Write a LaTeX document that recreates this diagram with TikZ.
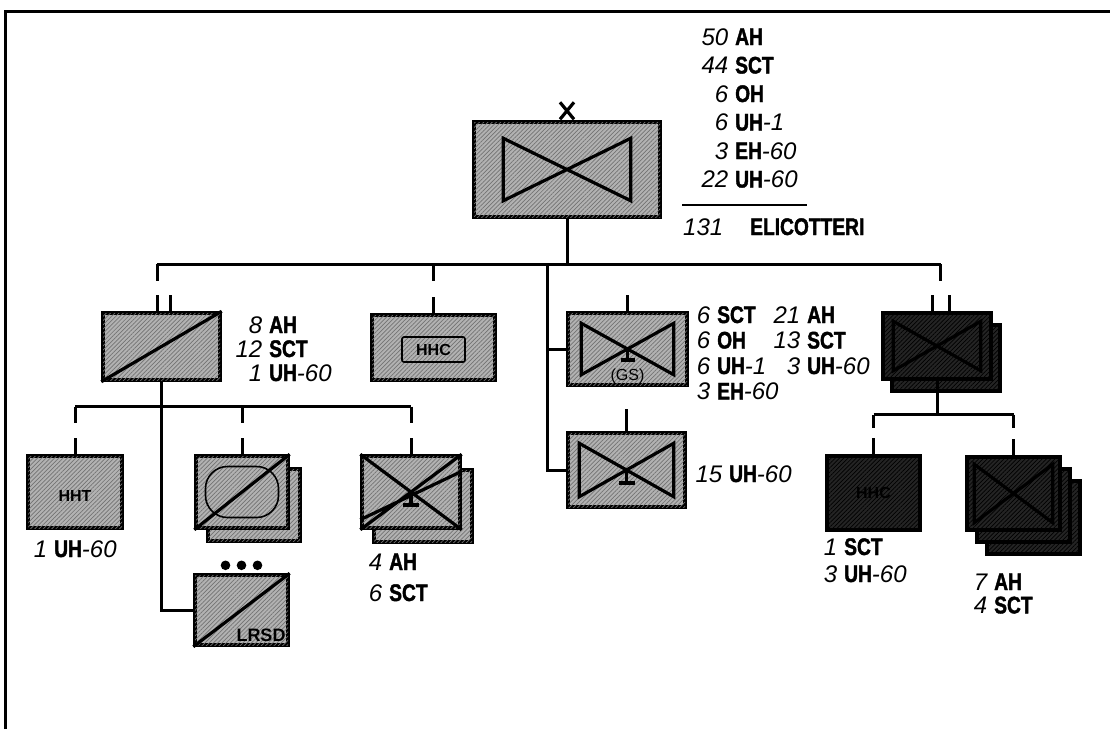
\documentclass[tikz,border=0pt]{standalone}
\usepackage{fontspec}
\setmainfont{Liberation Sans}
\newfontfamily\condfont[FakeStretch=0.8,BoldFeatures={FakeBold=1.6}]{Liberation Sans}
\usetikzlibrary{patterns.meta,calc}

% number + type line of a label block
\newcommand\ac[2]{\makebox[30pt][r]{\itshape #1}\hspace{7pt}{\condfont\bfseries #2}}
\newcommand\sfx[1]{{\itshape -#1}}
% aviation bow tie inside a unit box
\newcommand\airwing[3]{%
  \draw[symline] ([shift={(#2,#3)}]#1.north west) -- ([shift={(-#2,-#3)}]#1.south east)
    -- ([shift={(-#2,#3)}]#1.north east) -- ([shift={(#2,-#3)}]#1.south west) -- cycle;}
% inverted T under the centre
\newcommand\tmark[1]{\draw[symline] (#1.center) -- ++(0,13) ++(-8,0) -- ++(16,0);}

\tikzset{
  boxbase/.style={draw,line width=3.4pt,inner sep=0pt},
  unitbox/.style={boxbase,fill=black!30,
    postaction={pattern={Lines[angle=45,distance=3pt,line width=.7pt]},pattern color=black!55}},
  darkbox/.style={boxbase,fill=black!86,
    postaction={pattern={Lines[angle=45,distance=3pt,line width=.7pt]},pattern color=black}},
  symline/.style={line width=3.2pt},
  wire/.style={line width=3pt},
  tally/.style={anchor=base west,inner sep=0pt},
  boxname/.style={font=\bfseries\fontsize{16}{16}\selectfont}
}

\begin{document}
\begin{tikzpicture}[x=1pt,y=-1pt]
  \useasboundingbox (0,0) rectangle (1110,729);
  \draw[line width=3pt] (5,729) -- (5,11) -- (1110,11);

  % brigade
  \node[unitbox,minimum width=186pt,minimum height=95pt] (bde) at (567,169.5) {};
  \airwing{bde}{31}{18}
  \draw[symline] ([shift={(-7,-18)}]bde.north) -- ([shift={(7,-1)}]bde.north)
                 ([shift={(7,-18)}]bde.north) -- ([shift={(-7,-1)}]bde.north);

  % first row
  \node[unitbox,minimum width=117pt,minimum height=67pt] (cavsq) at (161.5,346.5) {};
  \draw[symline] (cavsq.south west) -- (cavsq.north east);
  \node[unitbox,minimum width=123pt,minimum height=65pt] (hhc) at (433.5,347.5) {};
  \node[boxname,draw,line width=1.6pt,rounded corners=2pt,minimum width=63pt,minimum height=25pt]
    (hhcname) at ([yshift=-2pt]hhc.center) {HHC};
  \node[unitbox,minimum width=119pt,minimum height=72pt] (gsab) at (627.5,349) {};
  \airwing{gsab}{15}{12}
  \draw[symline] (gsab.center) -- ++(0,11) ++(-7,0) -- ++(14,0);
  \node[font=\fontsize{16}{16}\selectfont,anchor=south,inner sep=1pt] (gsname)
    at ([yshift=2pt]gsab.south) {(GS)};
  \node[unitbox,minimum width=117pt,minimum height=74pt] (ahb) at (626.5,470) {};
  \airwing{ahb}{13}{12}
  \tmark{ahb}
  \node[darkbox,minimum width=108pt,minimum height=66pt] (atkbn2) at (946,358) {};
  \node[darkbox,minimum width=108pt,minimum height=66pt] (atkbn) at (937,346) {};
  \airwing{atkbn}{12}{10}

  % cavalry squadron row
  \node[unitbox,minimum width=94pt,minimum height=72pt] (hht) at (75,492) {};
  \node[boxname] (hhtname) at ([yshift=-4pt]hht.center) {HHT};
  \node[unitbox,minimum width=92pt,minimum height=72pt] (cavtrp2) at (254,505) {};
  \node[unitbox,minimum width=92pt,minimum height=72pt] (cavtrp) at (242,492) {};
  \node[draw,line width=1.6pt,rounded corners=22pt,minimum width=73pt,minimum height=51pt]
    (cavtrpov) at (cavtrp.center) {};
  \draw[symline] (cavtrp.south west) -- (cavtrp.north east);
  \node[unitbox,minimum width=98pt,minimum height=72pt] (airtrp2) at (423,506) {};
  \node[unitbox,minimum width=98pt,minimum height=72pt] (airtrp) at (411,492) {};
  \draw[symline] (airtrp.north west) -- (airtrp.south east)
                 (airtrp.south west) -- (airtrp.north east)
                 ([shift={(0,-10)}]airtrp.south west) -- ([shift={(0,17)}]airtrp.north east);
  \tmark{airtrp}
  \node[unitbox,minimum width=93pt,minimum height=70pt] (lrsd) at (241.5,610) {};
  \draw[symline] (lrsd.south west) -- (lrsd.north east);
  \node[anchor=south east,inner sep=2pt,font=\bfseries\fontsize{18}{18}\selectfont] (lrsdname)
    at ([shift={(-2,-3)}]lrsd.south east) {LRSD};
  \foreach \dx in {-16,0,16}
    \fill ([shift={(\dx,-8)}]lrsd.north) circle[radius=4.8pt];

  % attack battalion row
  \node[darkbox,minimum width=93pt,minimum height=74pt] (atkhhc) at (873.5,493) {};
  \node[boxname,text=black] (atkhhcname) at (atkhhc.center) {HHC};
  \node[darkbox,minimum width=93pt,minimum height=73pt] (atkco3) at (1033.5,517.5) {};
  \node[darkbox,minimum width=93pt,minimum height=73pt] (atkco2) at (1023.5,505.5) {};
  \node[darkbox,minimum width=93pt,minimum height=73pt] (atkco) at (1013.5,493.5) {};
  \airwing{atkco}{9}{9}

  % tree lines
  \coordinate (bus1) at (547,264);
  \coordinate (bus2) at ([yshift=-25pt]cavsq.south);
  \coordinate (bus3) at ([yshift=-34pt]atkbn.south);
  \draw[wire] (bde.south) -- (bde.south |- bus1);
  \draw[wire] ([xshift=-4.5pt]cavsq.north |- bus1) -- ([xshift=3.5pt]atkbn.north |- bus1);
  \foreach \u/\dx in {cavsq/-4.5pt,hhc/0pt,atkbn/3.5pt}
    \draw[wire] ([xshift=\dx]\u.north |- bus1) -- ++(0,17);
  \draw[wire] (bus1) |- (ahb.west);
  \draw[wire] (bus1 |- gsab.west) -- (gsab.west);
  \draw[wire] (hht.north |- bus2) -- (airtrp.north |- bus2);
  \draw[wire] (cavsq.south) |- (lrsd.west);
  \foreach \u in {hht,cavtrp,airtrp}
    \draw[wire] (\u.north |- bus2) -- ++(0,16);
  \draw[wire] (atkbn.south) -- (bus3);
  \draw[wire] (atkhhc.north |- bus3) -- (atkco.north |- bus3);
  \foreach \u in {atkhhc,atkco}
    \draw[wire] (\u.north |- bus3) -- ++(0,13);
  % unit size marks
  \foreach \u/\dx in {cavsq/-4.5pt,cavsq/8.5pt,hhc/0pt,gsab/0pt,atkbn/-5pt,atkbn/12pt,
                      hht/0pt,cavtrp/0pt,airtrp/0pt,atkhhc/0pt,atkco/0pt}
    \draw[wire] ([xshift=\dx]\u.north) -- ++(0,-16);
  \draw[wire] (ahb.north) -- ++(0,-22);

  % aircraft counts
  \node[tally,font=\fontsize{24}{28.5}\selectfont] (bdeac) at (698,45) {\begin{tabular}[t]{@{}l@{}}
    \ac{50}{AH}\\ \ac{44}{SCT}\\ \ac{6}{OH}\\ \ac{6}{UH}\sfx{1}\\ \ac{3}{EH}\sfx{60}\\ \ac{22}{UH}\sfx{60}
  \end{tabular}};
  \draw[line width=1.8pt] (682,205) -- (807,205);
  \node[tally,font=\fontsize{24}{28}\selectfont] (bdetotal) at (693,235)
    {\makebox[30pt][r]{\itshape 131}\hspace{27pt}{\condfont\bfseries ELICOTTERI}};
  \node[tally,font=\fontsize{24}{24}\selectfont] (cavsqac) at (232,333) {\begin{tabular}[t]{@{}l@{}}
    \ac{8}{AH}\\ \ac{12}{SCT}\\ \ac{1}{UH}\sfx{60}
  \end{tabular}};
  \node[tally,font=\fontsize{24}{25.5}\selectfont] (gsabac) at (680,323) {\begin{tabular}[t]{@{}l@{}}
    \ac{6}{SCT}\\ \ac{6}{OH}\\ \ac{6}{UH}\sfx{1}\\ \ac{3}{EH}\sfx{60}
  \end{tabular}};
  \node[tally,font=\fontsize{24}{25.5}\selectfont] (atkbnac) at (770,323) {\begin{tabular}[t]{@{}l@{}}
    \ac{21}{AH}\\ \ac{13}{SCT}\\ \ac{3}{UH}\sfx{60}
  \end{tabular}};
  \node[tally,font=\fontsize{24}{24}\selectfont] (ahbac) at (692,482) {\ac{15}{UH}\sfx{60}};
  \node[tally,font=\fontsize{24}{24}\selectfont] (hhtac) at (17,557) {\ac{1}{UH}\sfx{60}};
  \node[tally,font=\fontsize{24}{31}\selectfont] (airtrpac) at (352,570) {\begin{tabular}[t]{@{}l@{}}
    \ac{4}{AH}\\ \ac{6}{SCT}
  \end{tabular}};
  \node[tally,font=\fontsize{24}{27}\selectfont] (atkhhcac) at (807,555) {\begin{tabular}[t]{@{}l@{}}
    \ac{1}{SCT}\\ \ac{3}{UH}\sfx{60}
  \end{tabular}};
  \node[tally,font=\fontsize{24}{22}\selectfont] (atkcoac) at (957,590) {\begin{tabular}[t]{@{}l@{}}
    \ac{7}{AH}\\ \ac{4}{SCT}
  \end{tabular}};
\end{tikzpicture}
\end{document}
